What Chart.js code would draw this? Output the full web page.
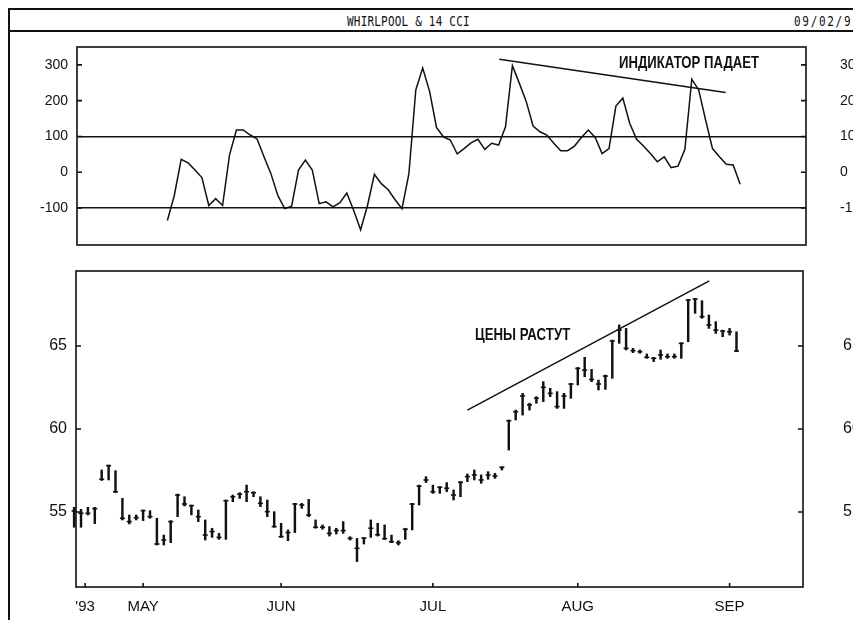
<!DOCTYPE html>
<html>
<head>
<meta charset="utf-8">
<script src="https://cdn.jsdelivr.net/npm/chart.js@4.4.1/dist/chart.umd.min.js"></script>
<style>
  html, body { margin: 0; padding: 0; background: #fff; overflow: hidden; }
  #page { position: relative; width: 853px; height: 620px; overflow: hidden; }
  canvas { position: absolute; left: 0; }
  #cci { top: 32px; }
  #price { top: 250px; }
  .rule { position: absolute; background: #111; }
  .title { position: absolute; font: 11px "DejaVu Sans Mono", monospace; color: #111; transform: scaleY(1.25); transform-origin: 0 0; white-space: nowrap; }
  .note { position: absolute; font: bold 17px "Liberation Sans", sans-serif; color: #111; line-height: 18px; white-space: nowrap; transform-origin: 0 0; }
</style>
</head>
<body>
<div id="page">
  <div class="rule" style="left:8px;top:8px;width:845px;height:1.5px"></div>
  <div class="rule" style="left:8px;top:30px;width:845px;height:1.5px"></div>
  <div class="rule" style="left:8px;top:8px;width:2px;height:612px"></div>
  <div class="title" style="left:347px;top:13px;letter-spacing:0.2px">WHIRLPOOL &amp; 14 CCI</div>
  <div class="title" style="left:794px;top:13px;letter-spacing:1.7px">09/02/93</div>
  <canvas id="cci" width="880" height="225"></canvas>
  <canvas id="price" width="880" height="370"></canvas>
  <div class="note" data-w="140" style="left:619px;top:54px">ИНДИКАТОР ПАДАЕТ</div>
  <div class="note" data-w="95" style="left:475px;top:326px">ЦЕНЫ РАСТУТ</div>
</div>
<script>
// daily bars, Apr 19 .. Sep 2 1993 (trading-day index)
const highs = [
  55.28, 55.16, 55.28, 55.28, 57.53, 57.83, 57.49, 55.82, 54.82, 54.82,
  55.12, 55.08, 54.62, 53.61, 54.48, 56.08, 55.92, 55.42, 55.12, 54.52,
  54.02, 53.71, 55.72, 56.02, 56.16, 56.62, 56.22, 55.92, 55.72, 55.02,
  54.32, 53.92, 55.52, 55.52, 55.76, 54.52, 54.22, 54.12, 54.02, 54.42,
  53.51, 53.41, 53.45, 54.52, 54.32, 54.22, 53.61, 53.27, 54.02, 55.52,
  56.62, 57.13, 56.62, 56.53, 56.77, 56.33, 56.83, 57.29, 57.53, 57.23,
  57.43, 57.33, 57.73, 60.54, 61.14, 62.15, 61.55, 61.95, 62.85, 62.45,
  62.25, 62.15, 62.75, 63.71, 64.32, 63.59, 62.95, 63.25, 65.36, 66.27,
  66.06, 64.86, 64.76, 64.52, 64.32, 64.76, 64.52, 64.52, 65.20, 67.81,
  67.87, 67.73, 66.87, 66.47, 65.96, 66.06, 65.86
];
const lows = [
  54.08, 54.08, 54.82, 54.30, 56.90, 56.93, 56.16, 54.52, 54.28, 54.52,
  54.48, 54.62, 53.01, 53.01, 53.15, 54.72, 55.36, 54.82, 54.42, 53.31,
  53.47, 53.35, 53.35, 55.62, 55.82, 55.62, 55.92, 55.32, 54.72, 54.08,
  53.47, 53.27, 53.76, 55.22, 54.72, 54.02, 53.96, 53.55, 53.67, 53.71,
  53.31, 52.01, 53.07, 53.47, 53.55, 53.35, 53.15, 53.01, 53.35, 53.92,
  55.42, 56.77, 56.12, 56.12, 56.22, 55.72, 55.92, 56.83, 56.93, 56.73,
  56.97, 57.03, 57.53, 58.73, 60.54, 60.84, 61.14, 61.55, 61.65, 61.95,
  61.24, 61.24, 61.85, 62.65, 63.15, 62.85, 62.35, 62.39, 63.05, 65.16,
  64.76, 64.60, 64.56, 64.26, 64.06, 64.20, 64.26, 64.26, 64.26, 65.26,
  66.97, 66.67, 66.06, 65.76, 65.56, 65.66, 64.66
];
const closes = [
  55.06, 54.92, 54.92, 55.20, 56.97, 57.79, 56.22, 54.62, 54.42, 54.66,
  55.08, 54.72, 53.07, 53.31, 54.42, 56.02, 55.48, 55.38, 54.72, 53.61,
  53.82, 53.47, 55.68, 55.92, 56.08, 56.22, 56.16, 55.52, 55.02, 54.12,
  53.51, 53.76, 55.48, 55.42, 54.82, 54.08, 54.08, 53.71, 53.88, 53.88,
  53.41, 52.81, 53.43, 54.02, 53.63, 53.39, 53.21, 53.15, 53.96, 55.48,
  56.56, 56.93, 56.22, 56.49, 56.43, 56.02, 56.79, 57.13, 57.23, 56.93,
  57.23, 57.17, 57.69, 60.50, 61.04, 61.99, 61.45, 61.85, 62.51, 62.15,
  61.35, 61.99, 62.71, 63.65, 63.55, 62.99, 62.71, 63.19, 65.30, 65.96,
  64.86, 64.72, 64.66, 64.32, 64.26, 64.46, 64.36, 64.36, 65.16, 67.77,
  67.83, 66.77, 66.27, 65.96, 65.90, 65.86, 64.70
];
// 14-day CCI, same index (first 13 days empty)
const cci = [
  null, null, null, null, null, null, null, null, null, null,
  null, null, null, -135, -65, 36, 26, 6, -15, -93,
  -74, -93, 48, 118, 118, 104, 93, 43, -4, -65,
  -102, -95, 6, 34, 6, -88, -83, -97, -85, -58,
  -107, -161, -93, -6, -32, -49, -77, -102, -4, 230,
  291, 226, 125, 99, 90, 51, 66, 82, 92, 64,
  81, 76, 127, 298, 249, 198, 129, 113, 104, 81,
  60, 60, 73, 97, 118, 97, 52, 66, 185, 207,
  137, 92, 73, 52, 29, 43, 13, 17, 64, 260,
  230, 146, 66, 43, 22, 20, -34
];
const cciTicks = [300, 200, 100, 0, -100];
const cciBands = [100, -100];
const priceTicks = [65, 60, 55];
const monthTicks = [1.6, 10, 30, 52, 73, 95];
const monthLabels = ["'93", "MAY", "JUN", "JUL", "AUG", "SEP"];
// hand-drawn trend lines [index, value]
const cciTrend = [[61.1, 316], [93.9, 223]];
const priceTrend = [[57.0, 61.14], [92.06, 68.93]];

const INK = "#111";
Chart.defaults.font.family = '"Liberation Sans", sans-serif';
Chart.defaults.color = INK;

// squeeze the notes to the width they have in the picture
document.querySelectorAll(".note").forEach(el => {
  el.style.transform = `scaleX(${el.dataset.w / el.offsetWidth})`;
});

const framePlugin = {
  id: "frame",
  afterDatasetsDraw(chart) {
    const { ctx, chartArea: a, scales } = chart;
    ctx.save();
    ctx.strokeStyle = INK;
    ctx.lineWidth = 1.6;
    ctx.strokeRect(a.left, a.top, a.right - a.left, a.bottom - a.top);
    ctx.beginPath();
    scales.y.ticks.forEach(t => {
      const py = scales.y.getPixelForValue(t.value);
      ctx.moveTo(a.left, py); ctx.lineTo(a.left + 5, py);
      ctx.moveTo(a.right, py); ctx.lineTo(a.right - 5, py);
    });
    if (scales.x.options.display) {
      scales.x.ticks.forEach(t => {
        const px = scales.x.getPixelForValue(t.value);
        ctx.moveTo(px, a.bottom); ctx.lineTo(px, a.bottom - 4);
      });
    }
    ctx.stroke();
    ctx.restore();
  },
};

const setTicks = vals => s => { s.ticks = vals.map(v => ({ value: v })); };
const fitBox = (w, h) => s => {
  if (w) s.width = w;
  if (h) s.height = h;
  s.paddingTop = s.paddingBottom = s.paddingLeft = s.paddingRight = 0;
};
const pts = arr => arr.map(([x, y]) => ({ x, y }));

new Chart(document.getElementById("cci"), {
  type: "line",
  data: {
    datasets: [
      { data: cci.map((v, i) => ({ x: i, y: v })).filter(p => p.y !== null), borderColor: INK, borderWidth: 1.5, pointRadius: 0, tension: 0 },
      { data: pts(cciTrend), borderColor: INK, borderWidth: 1.5, pointRadius: 0 },
    ],
  },
  options: {
    responsive: false, animation: false,
    layout: { padding: { top: 15, bottom: 12, left: 0, right: 0 } },
    plugins: { legend: { display: false }, tooltip: { enabled: false } },
    scales: {
      x: { type: "linear", min: -0.1, max: 105.55, display: false, offset: false },
      y: {
        position: "left", min: -203.5, max: 350,
        afterBuildTicks: setTicks(cciTicks),
        afterFit: fitBox(77),
        border: { display: false },
        grid: { drawTicks: false, lineWidth: 1.5, color: c => cciBands.includes(c.tick && c.tick.value) ? INK : "rgba(0,0,0,0)" },
        ticks: { padding: 9, font: { size: 14 } },
      },
      y2: {
        position: "right", min: -203.5, max: 350,
        afterBuildTicks: setTicks(cciTicks),
        afterFit: fitBox(74),
        border: { display: false },
        grid: { display: false, drawTicks: false },
        ticks: { padding: 34, font: { size: 14 } },
      },
    },
  },
  plugins: [framePlugin],
});

new Chart(document.getElementById("price"), {
  type: "bar",
  data: {
    datasets: [
      { type: "bar", data: highs.map((h, i) => ({ x: i, y: [lows[i], h] })), backgroundColor: INK, borderWidth: 0, barThickness: 1.8, clip: false },
      { type: "line", data: closes.map((c, i) => ({ x: i, y: c })), showLine: false, pointStyle: "line", pointRadius: 2.5, pointBorderWidth: 1.6, borderColor: INK, clip: false },
      { type: "line", data: pts(priceTrend), borderColor: INK, borderWidth: 1.5, pointRadius: 0 },
    ],
  },
  options: {
    responsive: false, animation: false,
    layout: { padding: { top: 21, bottom: 0, left: 0, right: 0 } },
    plugins: { legend: { display: false }, tooltip: { enabled: false } },
    scales: {
      x: {
        type: "linear", min: 0.275, max: 105.64, position: "bottom", offset: false,
        afterBuildTicks: setTicks(monthTicks),
        afterFit: fitBox(0, 33),
        border: { display: false },
        grid: { display: false, drawTicks: false, offset: false },
        ticks: { padding: 11, autoSkip: false, maxRotation: 0, font: { size: 15 }, callback: (v, i) => monthLabels[i] },
      },
      y: {
        position: "left", min: 50.48, max: 69.52,
        afterBuildTicks: setTicks(priceTicks),
        afterFit: fitBox(76),
        border: { display: false },
        grid: { display: false, drawTicks: false },
        ticks: { padding: 9, font: { size: 16 } },
      },
      y2: {
        position: "right", min: 50.48, max: 69.52,
        afterBuildTicks: setTicks(priceTicks),
        afterFit: fitBox(77),
        border: { display: false },
        grid: { display: false, drawTicks: false },
        ticks: { padding: 40, font: { size: 16 } },
      },
    },
  },
  plugins: [framePlugin],
});
</script>
</body>
</html>
